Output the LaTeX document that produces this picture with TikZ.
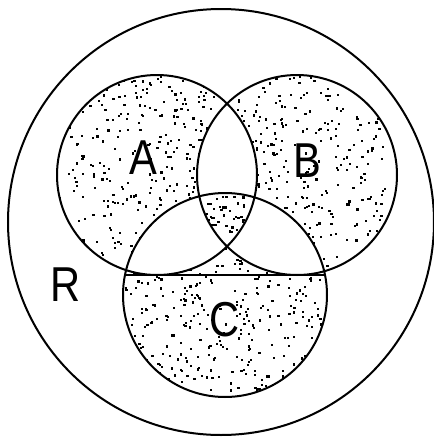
\documentclass[tikz,border=0pt]{standalone}
\usepackage{fontspec}
\setmainfont{Liberation Sans}
\begin{document}
\begin{tikzpicture}[x=1pt,y=-1pt,
  outline/.style={draw=black,line width=2pt},
  setlabel/.style={font=\fontsize{49}{49}\selectfont,inner sep=0pt,text=black,xscale=0.85},
  dot/.style={fill=black}]
\useasboundingbox (0,0) rectangle (434,437);
\fill[white] (0,0) rectangle (434,437);
\coordinate (cR) at (221,222);
\coordinate (cA) at (157,175);
\coordinate (cB) at (297,175);
\coordinate (cC) at (225,295);
\coordinate (chL) at (125,275);
\coordinate (chR) at (325,275);
% stippled regions: in exactly one circle or in all three
\begin{scope}[even odd rule]
  \clip (cA) circle (100pt) (cB) circle (100pt) (cC) circle (102pt);
  \pgfmathsetseed{7}
  \foreach \i in {1,...,1250}{
    \pgfmathsetmacro\px{55+345*rnd}
    \pgfmathsetmacro\py{73+327*rnd}
    \fill[dot] (\px,\py) rectangle ++(2.2,2.2);
  }
\end{scope}
\draw[outline] (cR) circle (213pt);
\draw[outline] (cA) circle (100pt);
\draw[outline] (cB) circle (100pt);
\draw[outline] (cC) circle (102pt);
\draw[outline] (chL) -- (chR);
\node[setlabel] (lA) at (143,158) {A};
\node[setlabel] (lB) at (307,161) {B};
\node[setlabel] (lC) at (225,320) {C};
\node[setlabel] (lR) at (66,285) {R};
\end{tikzpicture}
\end{document}
